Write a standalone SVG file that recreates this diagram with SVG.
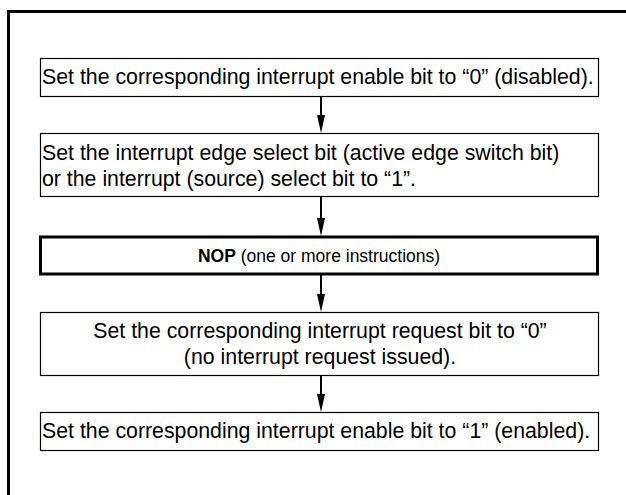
<svg xmlns="http://www.w3.org/2000/svg" width="626" height="495" viewBox="0 0 626 495">
<defs>
<style>
.box{fill:#fff;stroke:#000;stroke-width:1.2}
.thick{fill:#fff;stroke:#000;stroke-width:3}
.frame{fill:none;stroke:#000;stroke-width:3}
.t{font-family:"Liberation Sans",Arial,sans-serif;font-size:21.3px;fill:#000}
.s{font-size:17.5px}
.c{text-anchor:middle}
.ln{stroke:#000;stroke-width:2;fill:none}
.ah{fill:#000}
</style>
</defs>
<rect class="frame" x="8.5" y="11.5" width="640" height="500"/>
<g id="connectors">
<line class="ln" x1="321" y1="97" x2="321" y2="116"/>
<path class="ah" d="M317,115 L325,115 L321,133 Z"/>
<line class="ln" x1="321" y1="197" x2="321" y2="219"/>
<path class="ah" d="M317,218 L325,218 L321,236 Z"/>
<line class="ln" x1="321" y1="274" x2="321" y2="295"/>
<path class="ah" d="M317,294 L325,294 L321,312 Z"/>
<line class="ln" x1="321" y1="375" x2="321" y2="395"/>
<path class="ah" d="M317,394 L325,394 L321,412 Z"/>
</g>
<g id="n1">
<rect class="box" x="40.5" y="58.5" width="558" height="38"/>
<text class="t" x="42" y="84">Set the corresponding interrupt enable bit to “0” (disabled).</text>
</g>
<g id="n2">
<rect class="box" x="40.5" y="133.5" width="558" height="63"/>
<text class="t" x="42" y="159.5">Set the interrupt edge select bit (active edge switch bit)</text>
<text class="t" x="42" y="185.5">or the interrupt (source) select bit to “1”.</text>
</g>
<g id="n3">
<rect class="thick" x="40.5" y="237" width="557" height="37"/>
<text class="t s c" x="319" y="261.5"><tspan font-weight="bold">NOP</tspan> (one or more instructions)</text>
</g>
<g id="n4">
<rect class="box" x="40.5" y="312.5" width="558" height="63"/>
<text class="t c" x="320" y="338">Set the corresponding interrupt request bit to “0”</text>
<text class="t c" x="320" y="364">(no interrupt request issued).</text>
</g>
<g id="n5">
<rect class="box" x="40.5" y="412.5" width="558" height="38"/>
<text class="t" x="42" y="438">Set the corresponding interrupt enable bit to “1” (enabled).</text>
</g>
</svg>
